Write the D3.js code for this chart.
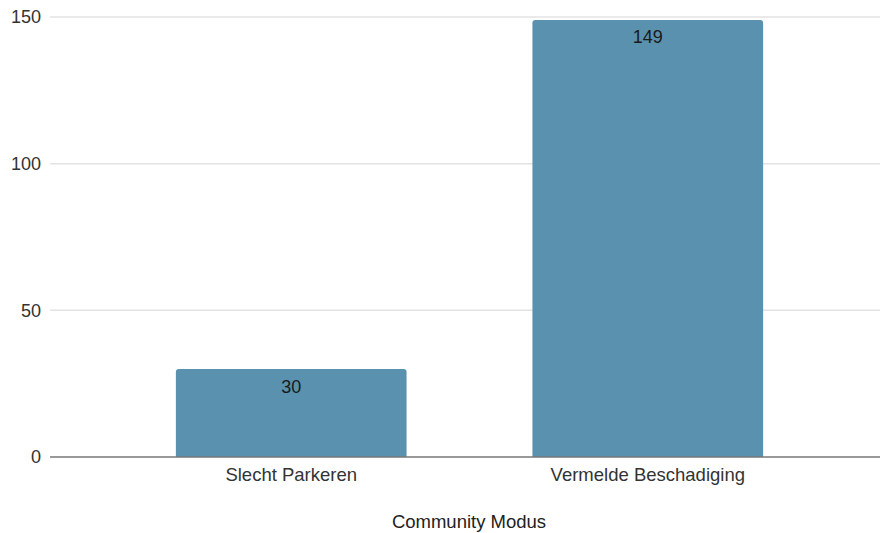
<!DOCTYPE html>
<html>
<head>
<meta charset="utf-8">
<script src="https://cdn.jsdelivr.net/npm/d3@7"></script>
<style>
  body { margin: 0; background: #fff; }
  svg text { font-family: "Liberation Sans", Arial, sans-serif; }
</style>
</head>
<body>
<svg id="chart" width="880" height="533"></svg>
<script>
// chart data
const categories = ['Slecht Parkeren', 'Vermelde Beschadiging'];
const counts = [30, 149];
const yTicks = [0, 50, 100, 150];
const xTitle = 'Community Modus';

const svg = d3.select('#chart');
const W = 880, H = 533;
const plotLeft = 50, plotTop = 17, plotBottom = 457;

// plot area runs a little past the right edge of the picture
const x = d3.scaleBand()
  .domain(categories)
  .range([plotLeft, 889])
  .padding(0.353);

const y = d3.scaleLinear()
  .domain([0, 150])
  .range([plotBottom, plotTop]);

// gridlines
svg.append('g')
  .selectAll('line')
  .data(yTicks.filter(d => d > 0))
  .join('line')
  .attr('x1', plotLeft)
  .attr('x2', W)
  .attr('y1', d => y(d))
  .attr('y2', d => y(d))
  .attr('stroke', '#e3e3e3')
  .attr('stroke-width', 1.5);

// y axis labels
const yAxis = d3.axisLeft(y).tickValues(yTicks).tickSize(0).tickPadding(9);
const gy = svg.append('g').attr('transform', `translate(${plotLeft},0)`).call(yAxis);
gy.select('.domain').remove();
gy.selectAll('text')
  .attr('font-size', 18)
  .attr('fill', '#333')
  .style('font-family', '"Liberation Sans", Arial, sans-serif');

// bars
svg.append('g')
  .selectAll('path')
  .data(categories)
  .join('path')
  .attr('d', (d, i) => {
    const x0 = x(d), x1 = x(d) + x.bandwidth();
    const y0 = y(counts[i]), r = 3;
    return `M${x0},${plotBottom}V${y0 + r}Q${x0},${y0} ${x0 + r},${y0}H${x1 - r}Q${x1},${y0} ${x1},${y0 + r}V${plotBottom}Z`;
  })
  .attr('fill', '#5991af');

// value labels
svg.append('g')
  .selectAll('text')
  .data(categories)
  .join('text')
  .attr('x', d => x(d) + x.bandwidth() / 2)
  .attr('y', (d, i) => y(counts[i]) + 23.5)
  .attr('text-anchor', 'middle')
  .attr('font-size', 18)
  .attr('fill', '#1a1a1a')
  .text((d, i) => counts[i]);

// baseline + category labels
const xAxis = d3.axisBottom(x).tickSize(0).tickPadding(11);
const gx = svg.append('g').attr('transform', `translate(0,${plotBottom})`).call(xAxis);
gx.select('.domain').remove();
gx.selectAll('text')
  .attr('font-size', 18.5)
  .attr('fill', '#333')
  .style('font-family', '"Liberation Sans", Arial, sans-serif');

svg.append('line')
  .attr('x1', plotLeft).attr('x2', W)
  .attr('y1', plotBottom).attr('y2', plotBottom)
  .attr('stroke', '#777')
  .attr('stroke-width', 1.5);

// axis title
svg.append('text')
  .attr('x', 469)
  .attr('y', 528)
  .attr('text-anchor', 'middle')
  .attr('font-size', 18.5)
  .attr('fill', '#222')
  .text(xTitle);
</script>
</body>
</html>
